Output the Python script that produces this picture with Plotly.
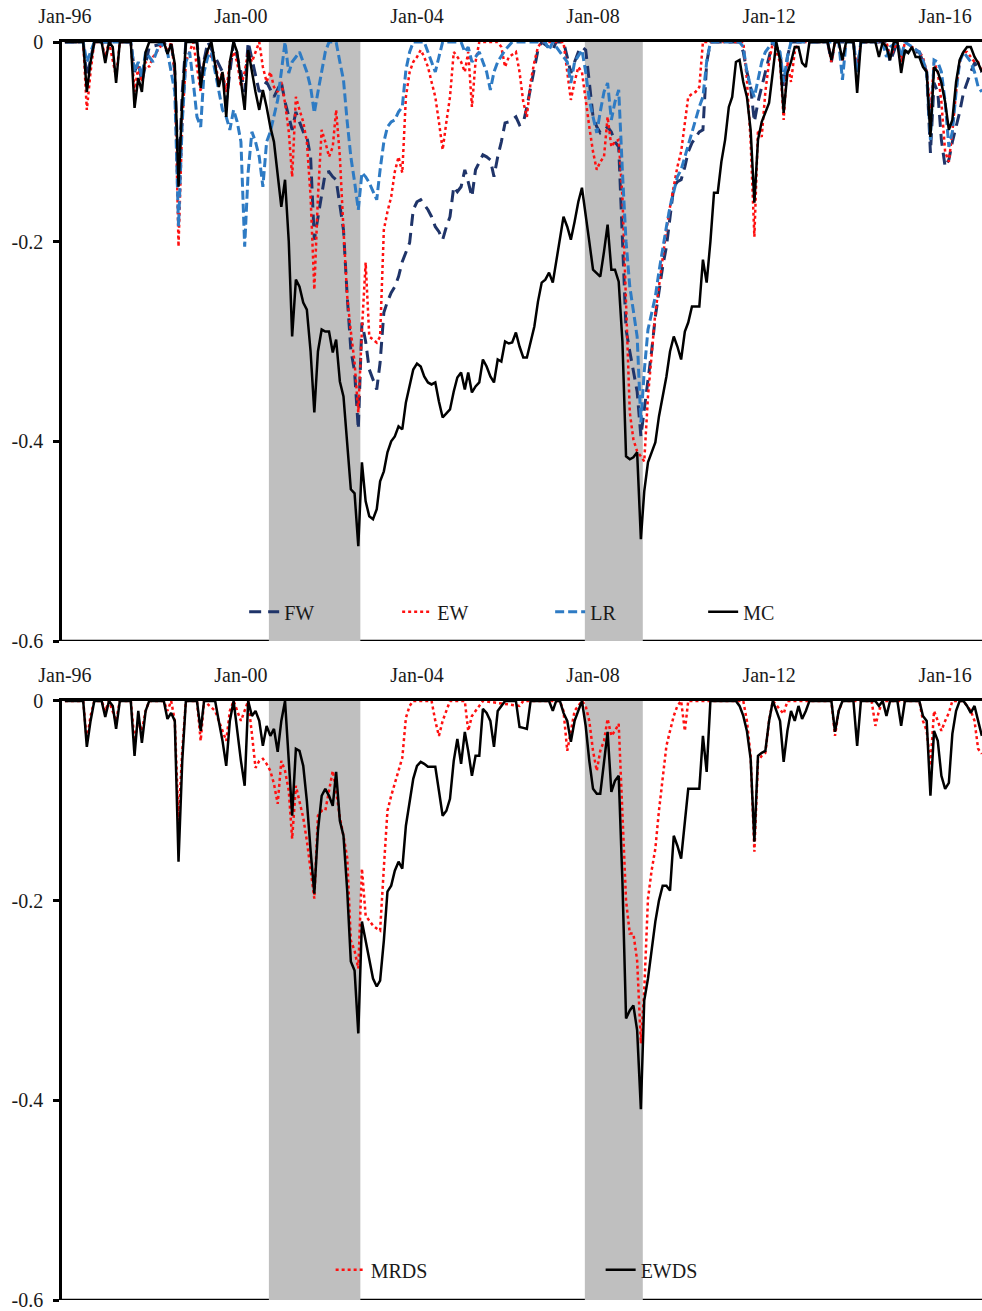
import plotly.graph_objects as go

# ---------------- data (monthly drawdowns) ----------------
FW = [("1996-01",0),("1996-06",0),("1996-07",-0.035),("1996-09",0),("1997-07",0),("1997-08",-0.03),("1997-09",-0.02),("1997-10",-0.04),("1997-12",-0.005),
      ("1998-06",0),("1998-07",-0.03),("1998-08",-0.14),("1998-09",-0.05),("1998-10",0),("1999-01",0),("1999-02",-0.035),("1999-04",0),("1999-08",-0.03),
      ("1999-09",-0.06),("1999-11",0),("2000-01",-0.03),("2000-02",-0.05),("2000-03",0),("2000-06",-0.05),("2000-08",-0.04),("2000-10",-0.055),("2000-12",-0.04),
      ("2001-01",-0.06),("2001-03",-0.088),("2001-04",-0.07),("2001-05",-0.08),("2001-06",-0.09),("2001-07",-0.095),("2001-08",-0.115),("2001-09",-0.198),
      ("2001-10",-0.175),("2001-11",-0.15),("2001-12",-0.131),("2002-01",-0.13),("2002-02",-0.135),("2002-03",-0.138),("2002-04",-0.165),("2002-05",-0.188),
      ("2002-06",-0.255),("2002-07",-0.308),("2002-08",-0.33),("2002-09",-0.388),("2002-10",-0.281),("2002-11",-0.30),("2002-12",-0.328),("2003-01",-0.338),
      ("2003-02",-0.348),("2003-03",-0.321),("2003-04",-0.271),("2003-05",-0.26),("2003-06",-0.251),("2003-07",-0.245),("2003-08",-0.235),("2003-09",-0.22),
      ("2003-10",-0.21),("2003-11",-0.201),("2003-12",-0.168),("2004-01",-0.16),("2004-02",-0.158),("2004-03",-0.163),("2004-04",-0.168),("2004-05",-0.175),
      ("2004-06",-0.185),("2004-07",-0.19),("2004-08",-0.198),("2004-09",-0.185),("2004-10",-0.175),("2004-11",-0.145),("2004-12",-0.15),("2005-01",-0.145),
      ("2005-02",-0.128),("2005-03",-0.14),("2005-04",-0.155),("2005-05",-0.128),("2005-06",-0.12),("2005-07",-0.113),("2005-08",-0.115),("2005-09",-0.118),
      ("2005-10",-0.135),("2005-11",-0.115),("2005-12",-0.1),("2006-01",-0.081),("2006-02",-0.08),("2006-03",-0.078),("2006-04",-0.075),("2006-05",-0.083),
      ("2006-06",-0.081),("2006-07",-0.065),("2006-08",-0.045),("2006-09",-0.025),("2006-10",-0.008),("2006-11",0),("2007-01",-0.005),("2007-02",-0.008),
      ("2007-03",0),("2007-05",0),("2007-06",-0.015),("2007-07",-0.031),("2007-08",-0.02),("2007-09",-0.01),("2007-10",-0.005),("2007-11",-0.008),
      ("2007-12",-0.04),("2008-01",-0.075),("2008-02",-0.085),("2008-03",-0.091),("2008-04",-0.088),("2008-05",-0.085),("2008-06",-0.09),("2008-07",-0.1),
      ("2008-08",-0.105),("2008-09",-0.205),("2008-10",-0.288),("2008-11",-0.31),("2008-12",-0.328),("2009-01",-0.35),("2009-02",-0.395),("2009-03",-0.37),
      ("2009-04",-0.341),("2009-05",-0.31),("2009-06",-0.275),("2009-07",-0.25),("2009-08",-0.225),("2009-09",-0.205),("2009-10",-0.175),("2009-11",-0.145),
      ("2009-12",-0.14),("2010-01",-0.138),("2010-02",-0.125),("2010-03",-0.11),("2010-04",-0.101),("2010-05",-0.095),("2010-06",-0.09),("2010-07",-0.088),
      ("2010-08",-0.021),("2010-09",0),("2011-05",0),("2011-06",-0.01),("2011-07",-0.03),("2011-08",-0.045),("2011-09",-0.08),("2011-10",-0.06),
      ("2011-11",-0.045),("2011-12",-0.028),("2012-02",0),("2012-04",-0.01),("2012-05",-0.045),("2012-06",-0.015),("2012-07",0),("2013-05",0),
      ("2013-06",-0.02),("2013-07",0),("2013-12",0),("2014-01",-0.03),("2014-02",0),("2014-09",0),("2014-10",-0.02),("2014-12",0),("2015-01",-0.02),
      ("2015-02",-0.01),("2015-06",-0.01),("2015-07",-0.02),("2015-08",-0.03),("2015-09",-0.111),("2015-10",-0.041),("2015-11",-0.05),("2015-12",-0.098),
      ("2016-01",-0.125),("2016-02",-0.118),("2016-03",-0.1),("2016-04",-0.085),("2016-05",-0.07),("2016-06",-0.051),("2016-07",-0.04),("2016-08",-0.03),
      ("2016-09",-0.021),("2016-10",-0.025),("2016-11",-0.03)]

EW = [("1996-01",0),("1996-06",0),("1996-07",-0.068),("1996-08",-0.03),("1996-09",0),("1996-11",0),("1996-12",-0.015),("1997-01",0),("1997-03",-0.035),
      ("1997-04",0),("1997-07",0),("1997-08",-0.05),("1997-09",-0.025),("1997-10",-0.04),("1997-11",-0.02),("1997-12",-0.025),("1998-01",-0.015),
      ("1998-02",-0.01),("1998-04",0),("1998-05",-0.01),("1998-06",0),("1998-07",-0.03),("1998-08",-0.205),("1998-09",-0.08),("1998-10",-0.02),
      ("1998-12",0),("1999-02",-0.05),("1999-03",-0.02),("1999-04",-0.01),("1999-06",-0.02),("1999-07",-0.04),("1999-08",-0.03),("1999-09",-0.05),
      ("1999-10",-0.02),("1999-11",-0.01),("1999-12",-0.02),("2000-01",-0.045),("2000-02",-0.03),("2000-03",-0.01),("2000-04",-0.02),("2000-05",-0.01),
      ("2000-06",0),("2000-07",-0.025),("2000-08",-0.04),("2000-09",-0.03),("2000-10",-0.045),("2000-11",-0.05),("2000-12",-0.04),("2001-01",-0.061),
      ("2001-02",-0.09),("2001-03",-0.135),("2001-04",-0.055),("2001-05",-0.068),("2001-06",-0.08),("2001-07",-0.1),("2001-08",-0.155),("2001-09",-0.248),
      ("2001-10",-0.155),("2001-11",-0.088),("2001-12",-0.1),("2002-01",-0.115),("2002-02",-0.105),("2002-03",-0.068),("2002-04",-0.115),("2002-05",-0.188),
      ("2002-06",-0.255),("2002-07",-0.29),("2002-08",-0.321),("2002-09",-0.371),("2002-10",-0.288),("2002-11",-0.221),("2002-12",-0.295),("2003-01",-0.298),
      ("2003-02",-0.301),("2003-03",-0.295),("2003-04",-0.188),("2003-05",-0.17),("2003-06",-0.155),("2003-07",-0.13),("2003-08",-0.115),("2003-09",-0.131),
      ("2003-10",-0.055),("2003-11",-0.03),("2003-12",-0.02),("2004-01",-0.015),("2004-02",-0.008),("2004-03",-0.015),("2004-04",-0.025),("2004-05",-0.04),
      ("2004-06",-0.055),("2004-07",-0.08),("2004-08",-0.108),("2004-09",-0.08),("2004-10",-0.055),("2004-11",-0.01),("2004-12",-0.015),("2005-01",-0.02),
      ("2005-02",-0.03),("2005-03",-0.01),("2005-04",-0.065),("2005-05",-0.02),("2005-06",0),("2005-11",0),("2005-12",-0.005),("2006-01",-0.025),
      ("2006-02",-0.015),("2006-04",-0.01),("2006-05",-0.03),("2006-06",-0.06),("2006-07",-0.075),("2006-08",-0.04),("2006-09",-0.02),("2006-10",-0.005),
      ("2006-11",0),("2007-05",0),("2007-06",-0.03),("2007-07",-0.058),("2007-08",-0.04),("2007-09",-0.025),("2007-10",-0.03),("2007-11",-0.06),
      ("2007-12",-0.085),("2008-01",-0.11),("2008-02",-0.128),("2008-03",-0.12),("2008-04",-0.115),("2008-05",-0.075),("2008-06",-0.105),("2008-07",-0.1),
      ("2008-08",-0.098),("2008-09",-0.155),("2008-10",-0.255),("2008-11",-0.371),("2008-12",-0.398),("2009-01",-0.41),("2009-02",-0.415),("2009-03",-0.42),
      ("2009-04",-0.355),("2009-05",-0.31),("2009-06",-0.271),("2009-07",-0.245),("2009-08",-0.215),("2009-09",-0.188),("2009-10",-0.165),("2009-11",-0.145),
      ("2009-12",-0.125),("2010-01",-0.11),("2010-02",-0.08),("2010-03",-0.055),("2010-04",-0.052),("2010-05",-0.05),("2010-06",-0.045),("2010-07",0),
      ("2011-06",0),("2011-07",-0.038),("2011-08",-0.1),("2011-09",-0.195),("2011-10",-0.088),("2011-11",-0.095),("2011-12",-0.05),("2012-01",-0.02),
      ("2012-02",0),("2012-04",-0.02),("2012-05",-0.078),("2012-06",-0.02),("2012-07",-0.04),("2012-08",-0.01),("2012-09",0),("2013-05",0),
      ("2013-06",-0.02),("2013-07",0),("2013-08",0),("2013-09",-0.02),("2013-10",0),("2013-12",0),("2014-01",-0.03),("2014-02",0),("2014-09",0),
      ("2014-10",-0.015),("2014-12",0),("2015-01",-0.02),("2015-02",0),("2015-06",-0.01),("2015-07",-0.015),("2015-08",-0.03),("2015-09",-0.07),
      ("2015-10",-0.02),("2015-11",-0.03),("2015-12",-0.06),("2016-01",-0.11),("2016-02",-0.12),("2016-03",-0.09),("2016-04",-0.05),("2016-05",-0.02),
      ("2016-06",-0.01),("2016-07",-0.01),("2016-08",-0.015),("2016-09",-0.02),("2016-10",-0.02),("2016-11",-0.03)]

LR = [("1996-01",0),("1996-06",0),("1996-07",-0.02),("1996-09",0),("1997-07",0),("1997-08",-0.03),("1997-09",-0.02),("1997-10",-0.035),("1997-11",-0.01),
      ("1998-01",-0.02),("1998-03",0),("1998-05",-0.01),("1998-06",-0.03),("1998-07",-0.05),("1998-08",-0.185),("1998-09",-0.08),("1998-10",-0.02),
      ("1998-11",-0.01),("1998-12",-0.04),("1999-01",-0.075),("1999-02",-0.085),("1999-03",-0.03),("1999-04",-0.015),("1999-05",-0.01),("1999-06",-0.03),
      ("1999-07",-0.05),("1999-08",-0.068),("1999-09",-0.075),("1999-10",-0.088),("1999-11",-0.068),("1999-12",-0.08),("2000-01",-0.10),("2000-02",-0.205),
      ("2000-03",-0.13),("2000-04",-0.09),("2000-05",-0.1),("2000-06",-0.115),("2000-07",-0.145),("2000-08",-0.10),("2000-09",-0.09),("2000-10",-0.075),
      ("2000-11",-0.058),("2000-12",-0.03),("2001-01",0),("2001-02",-0.031),("2001-03",-0.02),("2001-04",-0.015),("2001-05",-0.01),("2001-06",-0.02),
      ("2001-07",-0.03),("2001-08",-0.045),("2001-09",-0.071),("2001-10",-0.05),("2001-11",-0.028),("2001-12",-0.01),("2002-01",0),("2002-03",0),
      ("2002-04",-0.02),("2002-05",-0.038),("2002-06",-0.08),("2002-07",-0.115),("2002-08",-0.14),("2002-09",-0.168),("2002-10",-0.131),("2002-11",-0.135),
      ("2002-12",-0.141),("2003-01",-0.15),("2003-02",-0.158),("2003-03",-0.128),("2003-04",-0.1),("2003-05",-0.085),("2003-06",-0.08),("2003-07",-0.078),
      ("2003-08",-0.07),("2003-09",-0.065),("2003-10",-0.028),("2003-11",-0.01),("2003-12",0),("2004-03",0),("2004-04",-0.01),("2004-05",-0.02),
      ("2004-06",-0.03),("2004-07",-0.015),("2004-08",0),("2005-01",0),("2005-02",-0.01),("2005-03",-0.005),("2005-04",-0.02),("2005-05",-0.015),
      ("2005-06",-0.01),("2005-07",-0.02),("2005-08",-0.03),("2005-09",-0.048),("2005-10",-0.03),("2005-11",-0.02),("2006-01",-0.008),("2006-03",0),
      ("2006-12",0),("2007-01",-0.008),("2007-02",0),("2007-06",-0.02),("2007-07",-0.041),("2007-08",-0.02),("2007-10",-0.008),("2007-11",-0.03),
      ("2007-12",-0.058),("2008-01",-0.075),("2008-02",-0.091),("2008-03",-0.07),("2008-04",-0.05),("2008-05",-0.041),("2008-06",-0.078),("2008-07",-0.06),
      ("2008-08",-0.048),("2008-09",-0.13),("2008-10",-0.2),("2008-11",-0.245),("2008-12",-0.27),("2009-01",-0.295),("2009-02",-0.381),("2009-03",-0.33),
      ("2009-04",-0.288),("2009-05",-0.27),("2009-06",-0.255),("2009-07",-0.23),("2009-08",-0.205),("2009-09",-0.185),("2009-10",-0.165),("2009-11",-0.148),
      ("2009-12",-0.135),("2010-01",-0.128),("2010-02",-0.115),("2010-03",-0.101),("2010-04",-0.09),("2010-05",-0.078),("2010-06",-0.065),("2010-07",-0.055),
      ("2010-08",-0.02),("2010-09",0),("2011-05",0),("2011-06",-0.005),("2011-07",-0.03),("2011-08",-0.045),("2011-09",-0.055),("2011-10",-0.038),
      ("2011-11",-0.02),("2011-12",-0.01),("2012-02",0),("2012-04",-0.01),("2012-05",-0.04),("2012-06",-0.015),("2012-07",0),("2013-08",0),
      ("2013-09",-0.038),("2013-10",0),("2013-12",0),("2014-01",-0.03),("2014-02",0),("2014-08",0),("2014-09",-0.015),("2014-10",-0.005),("2014-12",0),
      ("2015-01",-0.015),("2015-02",0),("2015-06",-0.01),("2015-07",-0.018),("2015-08",-0.03),("2015-09",-0.098),("2015-10",-0.018),("2015-11",-0.02),
      ("2015-12",-0.03),("2016-01",-0.06),("2016-02",-0.105),("2016-03",-0.09),("2016-04",-0.05),("2016-05",-0.02),("2016-06",-0.01),("2016-07",-0.015),
      ("2016-08",-0.02),("2016-09",-0.03),("2016-10",-0.045),("2016-11",-0.05)]

MC = [("1996-01",0),("1996-06",0),("1996-07",-0.05),("1996-08",-0.02),("1996-09",0),("1996-11",0),("1996-12",-0.021),("1997-01",0),("1997-02",-0.005),
      ("1997-03",-0.041),("1997-04",0),("1997-07",0),("1997-08",-0.066),("1997-09",-0.036),("1997-10",-0.05),("1997-11",-0.01),("1997-12",0),("1998-04",0),
      ("1998-05",-0.012),("1998-06",-0.002),("1998-07",-0.022),("1998-08",-0.145),("1998-09",-0.06),("1998-10",0),("1999-01",0),("1999-02",-0.046),
      ("1999-03",-0.02),("1999-04",-0.008),("1999-05",0),("1999-06",-0.025),("1999-07",-0.045),("1999-08",-0.03),("1999-09",-0.075),("1999-10",-0.02),
      ("1999-11",0),("1999-12",-0.01),("2000-01",-0.04),("2000-02",-0.068),("2000-03",-0.008),("2000-04",-0.03),("2000-05",-0.05),("2000-06",-0.068),
      ("2000-07",-0.048),("2000-08",-0.065),("2000-09",-0.085),("2000-10",-0.10),("2000-11",-0.13),("2000-12",-0.165),("2001-01",-0.138),("2001-02",-0.20),
      ("2001-03",-0.295),("2001-04",-0.238),("2001-05",-0.245),("2001-06",-0.261),("2001-07",-0.268),("2001-08",-0.31),("2001-09",-0.371),("2001-10",-0.31),
      ("2001-11",-0.288),("2001-12",-0.29),("2002-01",-0.29),("2002-02",-0.311),("2002-03",-0.298),("2002-04",-0.34),("2002-05",-0.355),("2002-06",-0.40),
      ("2002-07",-0.448),("2002-08",-0.452),("2002-09",-0.505),("2002-10",-0.421),("2002-11",-0.46),("2002-12",-0.475),("2003-01",-0.478),("2003-02",-0.468),
      ("2003-03",-0.44),("2003-04",-0.43),("2003-05",-0.411),("2003-06",-0.40),("2003-07",-0.395),("2003-08",-0.385),("2003-09",-0.388),("2003-10",-0.361),
      ("2003-11",-0.345),("2003-12",-0.328),("2004-01",-0.322),("2004-02",-0.325),("2004-03",-0.335),("2004-04",-0.341),("2004-05",-0.343),("2004-06",-0.341),
      ("2004-07",-0.36),("2004-08",-0.376),("2004-09",-0.372),("2004-10",-0.368),("2004-11",-0.35),("2004-12",-0.336),("2005-01",-0.331),("2005-02",-0.348),
      ("2005-03",-0.331),("2005-04",-0.351),("2005-05",-0.345),("2005-06",-0.341),("2005-07",-0.318),("2005-08",-0.325),("2005-09",-0.335),("2005-10",-0.341),
      ("2005-11",-0.318),("2005-12",-0.320),("2006-01",-0.300),("2006-02",-0.302),("2006-03",-0.301),("2006-04",-0.291),("2006-05",-0.305),("2006-06",-0.316),
      ("2006-07",-0.316),("2006-08",-0.30),("2006-09",-0.285),("2006-10",-0.26),("2006-11",-0.241),("2006-12",-0.238),("2007-01",-0.231),("2007-02",-0.241),
      ("2007-03",-0.221),("2007-04",-0.20),("2007-05",-0.175),("2007-06",-0.185),("2007-07",-0.198),("2007-08",-0.18),("2007-09",-0.16),("2007-10",-0.146),
      ("2007-11",-0.171),("2007-12",-0.20),("2008-01",-0.228),("2008-02",-0.232),("2008-03",-0.235),("2008-04",-0.21),("2008-05",-0.183),("2008-06",-0.228),
      ("2008-07",-0.228),("2008-08",-0.24),("2008-09",-0.30),("2008-10",-0.415),("2008-11",-0.418),("2008-12",-0.416),("2009-01",-0.411),("2009-02",-0.498),
      ("2009-03",-0.45),("2009-04",-0.421),("2009-05",-0.41),("2009-06",-0.401),("2009-07",-0.375),("2009-08",-0.355),("2009-09",-0.335),("2009-10",-0.31),
      ("2009-11",-0.295),("2009-12",-0.305),("2010-01",-0.318),("2010-02",-0.29),("2010-03",-0.281),("2010-04",-0.265),("2010-05",-0.265),("2010-06",-0.265),
      ("2010-07",-0.218),("2010-08",-0.241),("2010-09",-0.20),("2010-10",-0.151),("2010-11",-0.151),("2010-12",-0.12),("2011-01",-0.098),("2011-02",-0.065),
      ("2011-03",-0.055),("2011-04",-0.02),("2011-05",-0.018),("2011-06",-0.04),("2011-07",-0.055),("2011-08",-0.088),("2011-09",-0.161),("2011-10",-0.098),
      ("2011-11",-0.08),("2011-12",-0.071),("2012-01",-0.061),("2012-02",-0.03),("2012-03",0),("2012-04",-0.018),("2012-05",-0.071),("2012-06",-0.031),
      ("2012-07",-0.02),("2012-08",-0.005),("2012-09",-0.005),("2012-10",-0.021),("2012-11",-0.025),("2012-12",0),("2013-05",0),("2013-06",-0.018),
      ("2013-07",0),("2013-08",0),("2013-09",-0.018),("2013-10",0),("2013-12",0),("2014-01",-0.051),("2014-02",0),("2014-06",0),("2014-07",-0.015),
      ("2014-08",0),("2014-09",-0.005),("2014-10",-0.018),("2014-11",0),("2014-12",0),("2015-01",-0.031),("2015-02",-0.008),("2015-03",-0.011),
      ("2015-04",-0.005),("2015-05",-0.015),("2015-06",-0.015),("2015-07",-0.025),("2015-08",-0.03),("2015-09",-0.095),("2015-10",-0.025),("2015-11",-0.03),
      ("2015-12",-0.041),("2016-01",-0.06),("2016-02",-0.088),("2016-03",-0.078),("2016-04",-0.04),("2016-05",-0.018),("2016-06",-0.01),("2016-07",-0.005),
      ("2016-08",-0.005),("2016-09",-0.015),("2016-10",-0.021),("2016-11",-0.03)]

MRDS = [("1996-01",0),("1996-06",0),("1996-07",-0.04),("1996-08",-0.015),("1996-09",0),("1996-11",0),("1996-12",-0.01),("1997-01",0),("1997-03",-0.02),
        ("1997-04",0),("1997-07",0),("1997-08",-0.04),("1997-09",-0.02),("1997-10",-0.03),("1997-11",-0.01),("1997-12",0),("1998-04",0),("1998-05",-0.01),
        ("1998-06",0),("1998-07",-0.02),("1998-08",-0.12),("1998-09",-0.05),("1998-10",0),("1999-01",0),("1999-02",-0.04),("1999-03",0),("1999-06",-0.01),
        ("1999-07",-0.02),("1999-08",-0.03),("1999-09",-0.04),("1999-10",-0.01),("1999-11",0),("2000-01",-0.02),("2000-02",-0.01),("2000-03",0),
        ("2000-04",-0.033),("2000-05",-0.067),("2000-06",-0.06),("2000-07",-0.058),("2000-08",-0.063),("2000-09",-0.07),("2000-10",-0.083),("2000-11",-0.103),
        ("2000-12",-0.06),("2001-01",-0.07),("2001-02",-0.09),("2001-03",-0.138),("2001-04",-0.085),("2001-05",-0.1),("2001-06",-0.117),("2001-07",-0.14),
        ("2001-08",-0.17),("2001-09",-0.198),("2001-10",-0.115),("2001-11",-0.11),("2001-12",-0.11),("2002-01",-0.09),("2002-02",-0.07),("2002-03",-0.09),
        ("2002-04",-0.117),("2002-05",-0.135),("2002-06",-0.157),("2002-07",-0.24),("2002-08",-0.25),("2002-09",-0.268),("2002-10",-0.168),("2002-11",-0.215),
        ("2002-12",-0.22),("2003-01",-0.225),("2003-02",-0.228),("2003-03",-0.23),("2003-04",-0.167),("2003-05",-0.11),("2003-06",-0.095),("2003-07",-0.083),
        ("2003-08",-0.07),("2003-09",-0.057),("2003-10",-0.017),("2003-11",-0.005),("2003-12",0),("2004-05",0),("2004-06",-0.02),("2004-07",-0.035),
        ("2004-08",-0.02),("2004-09",-0.01),("2004-10",0),("2005-02",0),("2005-03",-0.03),("2005-04",-0.015),("2005-05",-0.01),("2005-07",0),
        ("2006-05",-0.005),("2006-06",0),("2007-04",0),("2007-05",-0.01),("2007-06",-0.05),("2007-07",-0.03),("2007-08",-0.01),("2007-10",0),
        ("2007-11",-0.005),("2007-12",-0.02),("2008-01",-0.05),("2008-02",-0.07),("2008-03",-0.05),("2008-04",-0.04),("2008-05",-0.018),("2008-06",-0.035),
        ("2008-07",-0.03),("2008-08",-0.023),("2008-09",-0.117),("2008-10",-0.2),("2008-11",-0.233),("2008-12",-0.233),("2009-01",-0.26),("2009-02",-0.343),
        ("2009-03",-0.29),("2009-04",-0.198),("2009-05",-0.17),("2009-06",-0.148),("2009-07",-0.11),("2009-08",-0.075),("2009-09",-0.045),("2009-10",-0.03),
        ("2009-11",-0.015),("2009-12",-0.005),("2010-01",0),("2010-02",-0.03),("2010-03",0),("2011-06",0),("2011-07",-0.02),("2011-08",-0.055),
        ("2011-09",-0.151),("2011-10",-0.06),("2011-11",-0.055),("2011-12",-0.052),("2012-01",-0.02),("2012-02",0),("2012-05",-0.013),("2012-06",0),
        ("2013-06",0),("2013-07",-0.035),("2013-08",-0.01),("2013-09",0),("2014-05",0),("2014-06",-0.025),("2014-07",-0.01),("2014-08",0),("2015-06",0),
        ("2015-07",-0.02),("2015-08",-0.03),("2015-09",-0.065),("2015-10",-0.01),("2015-11",-0.02),("2015-12",-0.03),("2016-01",-0.02),("2016-02",-0.012),
        ("2016-03",0),("2016-06",0),("2016-07",-0.005),("2016-08",-0.01),("2016-09",-0.02),("2016-10",-0.048),("2016-11",-0.053)]

EWDS = [("1996-01",0),("1996-06",0),("1996-07",-0.046),("1996-08",-0.02),("1996-09",0),("1996-11",0),("1996-12",-0.016),("1997-01",0),("1997-02",-0.005),
        ("1997-03",-0.028),("1997-04",0),("1997-07",0),("1997-08",-0.055),("1997-09",-0.01),("1997-10",-0.042),("1997-11",-0.01),("1997-12",0),("1998-04",0),
        ("1998-05",-0.018),("1998-06",-0.012),("1998-07",-0.02),("1998-08",-0.161),("1998-09",-0.06),("1998-10",0),("1999-01",0),("1999-02",-0.03),
        ("1999-03",0),("1999-06",0),("1999-07",-0.02),("1999-08",-0.04),("1999-09",-0.065),("1999-10",-0.02),("1999-11",0),("1999-12",-0.03),("2000-01",-0.06),
        ("2000-02",-0.085),("2000-03",0),("2000-04",-0.015),("2000-05",-0.01),("2000-06",-0.02),("2000-07",-0.045),("2000-08",-0.025),("2000-09",-0.035),
        ("2000-10",-0.028),("2000-11",-0.051),("2000-12",-0.02),("2001-01",0),("2001-02",-0.06),("2001-03",-0.115),("2001-04",-0.048),("2001-05",-0.05),
        ("2001-06",-0.065),("2001-07",-0.1),("2001-08",-0.15),("2001-09",-0.193),("2001-10",-0.13),("2001-11",-0.095),("2001-12",-0.088),("2002-01",-0.095),
        ("2002-02",-0.105),("2002-03",-0.071),("2002-04",-0.12),("2002-05",-0.135),("2002-06",-0.19),("2002-07",-0.261),("2002-08",-0.27),("2002-09",-0.333),
        ("2002-10",-0.221),("2002-11",-0.24),("2002-12",-0.258),("2003-01",-0.278),("2003-02",-0.286),("2003-03",-0.28),("2003-04",-0.24),("2003-05",-0.191),
        ("2003-06",-0.185),("2003-07",-0.17),("2003-08",-0.161),("2003-09",-0.168),("2003-10",-0.125),("2003-11",-0.1),("2003-12",-0.078),("2004-01",-0.065),
        ("2004-02",-0.061),("2004-03",-0.063),("2004-04",-0.066),("2004-05",-0.066),("2004-06",-0.066),("2004-07",-0.09),("2004-08",-0.115),("2004-09",-0.11),
        ("2004-10",-0.098),("2004-11",-0.06),("2004-12",-0.038),("2005-01",-0.063),("2005-02",-0.031),("2005-03",-0.05),("2005-04",-0.075),("2005-05",-0.055),
        ("2005-06",-0.055),("2005-07",-0.008),("2005-08",-0.012),("2005-09",-0.02),("2005-10",-0.046),("2005-11",-0.01),("2005-12",-0.005),("2006-01",0),
        ("2006-04",0),("2006-05",-0.026),("2006-06",-0.027),("2006-07",-0.028),("2006-08",0),("2007-01",0),("2007-02",-0.01),("2007-03",0),("2007-04",0),
        ("2007-05",-0.012),("2007-06",-0.02),("2007-07",-0.041),("2007-08",-0.02),("2007-09",-0.01),("2007-10",0),("2007-11",-0.025),("2007-12",-0.06),
        ("2008-01",-0.088),("2008-02",-0.093),("2008-03",-0.093),("2008-04",-0.06),("2008-05",-0.031),("2008-06",-0.091),("2008-07",-0.08),("2008-08",-0.075),
        ("2008-09",-0.181),("2008-10",-0.318),("2008-11",-0.31),("2008-12",-0.305),("2009-01",-0.33),("2009-02",-0.409),("2009-03",-0.30),("2009-04",-0.278),
        ("2009-05",-0.25),("2009-06",-0.221),("2009-07",-0.2),("2009-08",-0.185),("2009-09",-0.185),("2009-10",-0.19),("2009-11",-0.135),("2009-12",-0.145),
        ("2010-01",-0.158),("2010-02",-0.12),("2010-03",-0.088),("2010-04",-0.088),("2010-05",-0.088),("2010-06",-0.088),("2010-07",-0.035),("2010-08",-0.071),
        ("2010-09",0),("2011-04",0),("2011-05",-0.005),("2011-06",-0.015),("2011-07",-0.03),("2011-08",-0.058),("2011-09",-0.141),("2011-10",-0.055),
        ("2011-11",-0.052),("2011-12",-0.05),("2012-01",-0.02),("2012-02",0),("2012-04",-0.02),("2012-05",-0.061),("2012-06",-0.03),("2012-07",-0.01),
        ("2012-08",-0.02),("2012-09",-0.005),("2012-10",-0.018),("2012-11",-0.01),("2012-12",0),("2013-06",0),("2013-07",-0.031),("2013-08",-0.01),
        ("2013-09",0),("2013-12",0),("2014-01",-0.045),("2014-02",0),("2014-06",0),("2014-07",-0.005),("2014-08",0),("2014-09",-0.015),("2014-10",0),
        ("2014-12",0),("2015-01",-0.025),("2015-02",0),("2015-06",0),("2015-07",-0.015),("2015-08",-0.02),("2015-09",-0.095),("2015-10",-0.03),
        ("2015-11",-0.04),("2015-12",-0.075),("2016-01",-0.088),("2016-02",-0.082),("2016-03",-0.033),("2016-04",-0.01),("2016-05",0),("2016-06",0),
        ("2016-07",-0.005),("2016-08",-0.012),("2016-09",-0.005),("2016-10",-0.02),("2016-11",-0.035)]

RECESSIONS = [("2000-08-20", "2002-09-18"), ("2007-10-25", "2009-02-17")]
TICK_DATES = ["1996-01-01", "2000-01-01", "2004-01-01", "2008-01-01", "2012-01-01", "2016-01-01"]
TICK_TEXT = ["Jan-96", "Jan-00", "Jan-04", "Jan-08", "Jan-12", "Jan-16"]
Y_TICKS = [0, -0.2, -0.4, -0.6]
Y_TEXT = ["0", "-0.2", "-0.4", "-0.6"]

# ---------------- figure ----------------
FONT = "Liberation Serif"
TXT = "#1a1a1a"

def unzip(series):
    return [d for d, _ in series], [v for _, v in series]

fig = go.Figure()

top_styles = [
    ("FW", FW, dict(color="#1F3469", width=3, dash="12px,7px")),
    ("EW", EW, dict(color="#FF1010", width=2.5, dash="dot")),
    ("LR", LR, dict(color="#2E7BC4", width=3, dash="9px,4px")),
    ("MC", MC, dict(color="#000000", width=2.5)),
]
for name, s, ln in top_styles:
    x, y = unzip(s)
    fig.add_trace(go.Scatter(x=x, y=y, mode="lines", name=name, line=ln,
                             xaxis="x", yaxis="y", legend="legend", hoverinfo="skip"))

bottom_styles = [
    ("MRDS", MRDS, dict(color="#FF1010", width=2.5, dash="dot")),
    ("EWDS", EWDS, dict(color="#000000", width=2.5)),
]
for name, s, ln in bottom_styles:
    x, y = unzip(s)
    fig.add_trace(go.Scatter(x=x, y=y, mode="lines", name=name, line=ln,
                             xaxis="x2", yaxis="y2", legend="legend2", hoverinfo="skip"))

shapes = []
for yr in ("y", "y2"):
    xr = "x" if yr == "y" else "x2"
    # bottom frame line (drawn beneath the shaded bands)
    shapes.append(dict(type="line", xref=f"{xr} domain", yref=yr, x0=0, x1=1, y0=-0.6, y1=-0.6,
                       line=dict(color="black", width=2.5), layer="below"))
    for a, b in RECESSIONS:
        shapes.append(dict(type="rect", xref=xr, yref=f"{yr} domain", x0=a, x1=b, y0=0, y1=1,
                           fillcolor="#BFBFBF", line=dict(width=0), layer="below"))

X_RANGE = ["1995-12-08", "2016-11-02"]
xcommon = dict(type="date", range=X_RANGE, side="top", showline=True, linecolor="black", linewidth=2.5,
               showgrid=False, zeroline=False, ticks="", tickvals=TICK_DATES, ticktext=TICK_TEXT,
               ticklabelstandoff=8,
               tickfont=dict(family=FONT, size=20, color=TXT), fixedrange=True)
ycommon = dict(range=[-0.6, 0], showline=True, linecolor="black", linewidth=2.5, showgrid=False,
               zeroline=False, ticks="outside", ticklen=6, tickwidth=2.5, tickcolor="black",
               ticklabelstandoff=6,
               tickvals=Y_TICKS, ticktext=Y_TEXT, tickfont=dict(family=FONT, size=20, color=TXT),
               fixedrange=True)

legcommon = dict(orientation="h", xanchor="left", yanchor="middle", bgcolor="rgba(0,0,0,0)",
                 font=dict(family=FONT, size=20, color=TXT), entrywidthmode="pixels",
                 itemwidth=30, tracegroupgap=0)

fig.update_layout(
    width=982, height=1311,
    margin=dict(l=62, r=0, t=42, b=9),
    paper_bgcolor="white", plot_bgcolor="white",
    xaxis=dict(anchor="y", domain=[0, 1], **xcommon),
    yaxis=dict(anchor="x", domain=[0.5238, 1.0], **ycommon),
    xaxis2=dict(anchor="y2", domain=[0, 1], **xcommon),
    yaxis2=dict(anchor="x2", domain=[0.0, 0.4762], **ycommon),
    legend=dict(x=0.198, y=0.547, entrywidth=108, **legcommon),
    legend2=dict(x=0.292, y=0.024, entrywidth=225, **legcommon),
    shapes=shapes,
    showlegend=True,
)

# remove the default page margin and scrollbars so the figure fills the window exactly
fig.write_html("out.html", config={"displayModeBar": False},
               post_script="document.body.style.margin='0';document.documentElement.style.overflow='hidden';")
